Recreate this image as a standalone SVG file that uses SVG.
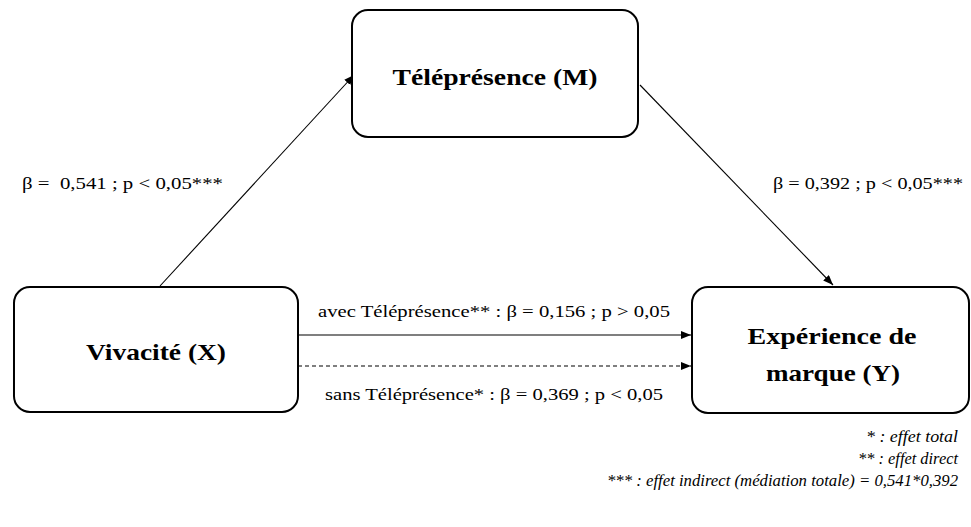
<svg xmlns="http://www.w3.org/2000/svg" width="971" height="527" viewBox="0 0 971 527" font-family="Liberation Serif, Tinos, DejaVu Serif, Noto Serif, serif">
<style>
.box{fill:#fff;stroke:#000;stroke-width:2}
.title{font-weight:bold;font-size:24px;text-anchor:middle;fill:#000}
.lbl{font-size:17px;fill:#000}
.leg{font-size:16px;font-style:italic;text-anchor:end;fill:#000}
.edge{stroke:#000;stroke-width:1.1;fill:none;marker-end:url(#ah)}
</style>
<defs>
<marker id="ah" markerWidth="10" markerHeight="8" refX="10" refY="4" orient="auto" markerUnits="userSpaceOnUse">
<path d="M0,0 L10,4 L0,8 Z" fill="#000"/>
</marker>
</defs>
<g id="connectors">
<line class="edge" x1="160" y1="286" x2="354" y2="75"/>
<line class="edge" x1="640" y1="85" x2="833" y2="285"/>
<line class="edge" x1="298" y1="335" x2="691" y2="335"/>
<line class="edge" x1="298" y1="366" x2="691" y2="366" stroke-dasharray="4,3"/>
</g>
<g id="node-M">
<rect class="box" x="352" y="10" width="286" height="127" rx="16"/>
<text class="title" x="495" y="85" textLength="205" lengthAdjust="spacingAndGlyphs">Téléprésence (M)</text>
</g>
<g id="node-X">
<rect class="box" x="14" y="287" width="284" height="125" rx="16"/>
<text class="title" x="156" y="360" textLength="140" lengthAdjust="spacingAndGlyphs">Vivacité (X)</text>
</g>
<g id="node-Y">
<rect class="box" x="692" y="287" width="277" height="126" rx="16"/>
<text class="title" x="832" y="344" textLength="169" lengthAdjust="spacingAndGlyphs">Expérience de</text>
<text class="title" x="833" y="381" textLength="134" lengthAdjust="spacingAndGlyphs">marque (Y)</text>
</g>
<g id="labels">
<text class="lbl" x="22" y="189" xml:space="preserve" textLength="201" lengthAdjust="spacingAndGlyphs">β =  0,541 ; p &lt; 0,05***</text>
<text class="lbl" x="773" y="189" textLength="190" lengthAdjust="spacingAndGlyphs">β = 0,392 ; p &lt; 0,05***</text>
<text class="lbl" x="318" y="317" textLength="352" lengthAdjust="spacingAndGlyphs">avec Téléprésence** : β = 0,156 ; p &gt; 0,05</text>
<text class="lbl" x="325" y="400" textLength="338" lengthAdjust="spacingAndGlyphs">sans Téléprésence* : β = 0,369 ; p &lt; 0,05</text>
</g>
<g id="legend">
<text class="leg" x="958" y="442" textLength="92" lengthAdjust="spacingAndGlyphs">* : effet total</text>
<text class="leg" x="958" y="464" textLength="100" lengthAdjust="spacingAndGlyphs">** : effet direct</text>
<text class="leg" x="958" y="486" textLength="351" lengthAdjust="spacingAndGlyphs">*** : effet indirect (médiation totale) = 0,541*0,392</text>
</g>
</svg>
